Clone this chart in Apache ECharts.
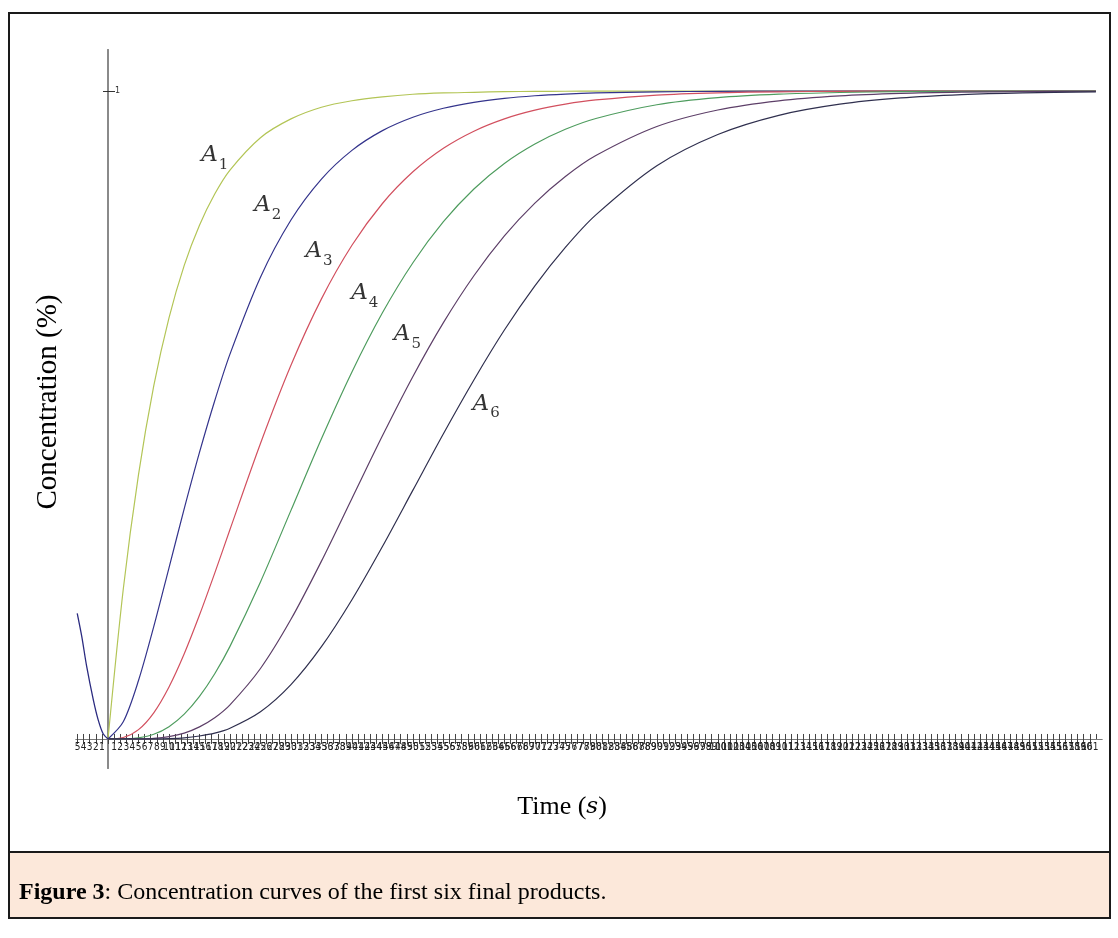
<!DOCTYPE html>
<html><head><meta charset="utf-8">
<script src="https://cdn.jsdelivr.net/npm/echarts@6/dist/echarts.min.js"></script>
<style>html,body{margin:0;padding:0;background:#fff}#c{width:1118px;height:938px}</style>
</head><body><div id="c"></div>
<script>
// ---- data ----
const T  = [0, 2.5, 5, 7.5, 10, 12.5, 15, 17.5, 20, 25, 30, 35, 40, 45, 50, 55, 60, 65, 70, 75, 80, 90, 100, 110, 120, 130, 140, 150, 162];
const A1 = [0, .231, .408, .545, .650, .731, .793, .841, .878, .928, .957, .975, .985, .991, .995, .997, .998, .999, .9994, .9996, .9998, .9999, 1, 1, 1, 1, 1, 1, 1];
const A2 = [0, .0265, .0902, .1733, .2642, .3554, .4422, .5220, .5940, .7127, .8009, .8641, .9084, .9389, .9596, .9734, .9826, .9887, .9927, .9953, .9970, .9988, .9995, .9998, .9999, 1, 1, 1, 1];
const A3 = [0, .0022, .0144, .0404, .0803, .1315, .1912, .2559, .3233, .4561, .5768, .6792, .7619, .8264, .8753, .9116, .9380, .9570, .9704, .9797, .9862, .9938, .9972, .9988, .9995, .9998, 1, 1, 1];
const A4 = [0, .0001, .0018, .0072, .0190, .0383, .0657, .1007, .1429, .2424, .3528, .4634, .5665, .6577, .7350, .7983, .8488, .8882, .9182, .9409, .9576, .9788, .9897, .9951, .9977, .9990, .9996, .9998, 1];
const A5 = [0, 0, .0002, .0010, .0037, .0091, .0187, .0328, .0527, .1088, .1847, .2745, .3712, .4679, .5595, .6425, .7149, .7764, .8270, .8680, .9004, .9452, .9707, .9849, .9924, .9963, .9982, .9991, .9996];
const A6 = [0, 0, 0, .0001, .0006, .0018, .0046, .0090, .0166, .0420, .0839, .1424, .2149, .2970, .3840, .4711, .5541, .6311, .6993, .7586, .8088, .8847, .9329, .9625, .9797, .9893, .9945, .9972, .9988];
const NEG_T = [-5.05, -4.3, -3.5, -2.4, -1.6, -0.8, 0];
const NEG_V = [0.194, 0.158, 0.112, 0.060, 0.029, 0.008, 0];
const CURVE_NAMES = ['A1', 'A2', 'A3', 'A4', 'A5', 'A6'];
const CURVE_SUBS = ['1', '2', '3', '4', '5', '6'];
const LABEL_T = [17.5, 26.2, 34.6, 42.1, 49.1, 62.0];
const LABEL_V = [0.906, 0.829, 0.759, 0.693, 0.631, 0.523];
const X_TICK_FIRST = -5, X_TICK_LAST = 162;
const Y_TICKS = [1];
const X_TITLE = 'Time (', X_TITLE_VAR = 's', X_TITLE_END = ')';
const Y_TITLE = 'Concentration (%)';
const CAPTION_BOLD = 'Figure 3';
const CAPTION_TEXT = ': Concentration curves of the first six final products.';

// ---- styling ----
const COLORS = ['#b3c556', '#34348c', '#d2505f', '#4e9c5e', '#5d3f68', '#30304f'];
const NEG_COLOR = '#2b2b80';
const X_MIN = -5.25, X_MAX = 163, Y_MIN = -0.0448, Y_MAX = 1.0633;

const X_TICKS = [];
for (let i = X_TICK_FIRST; i <= X_TICK_LAST; i++) X_TICKS.push(i);

const CURVES = [A1, A2, A3, A4, A5, A6];
const series = CURVES.map((arr, i) => ({
  name: CURVE_NAMES[i], type: 'line', xAxisIndex: 0, yAxisIndex: 0,
  data: T.map((t, j) => [t, arr[j]]),
  showSymbol: false, smooth: 0.3, silent: true,
  lineStyle: { color: COLORS[i], width: 1.2 }, z: 3
}));
series.push({
  name: 'A2 (t<0)', type: 'line', xAxisIndex: 0, yAxisIndex: 0,
  data: NEG_T.map((t, j) => [t, NEG_V[j]]),
  showSymbol: false, smooth: 0.3, silent: true,
  lineStyle: { color: NEG_COLOR, width: 1.3 }, z: 3
});
series.push({
  name: 'labels', type: 'scatter', xAxisIndex: 0, yAxisIndex: 0,
  data: LABEL_T.map((t, i) => ({ value: [t, LABEL_V[i]], sub: CURVE_SUBS[i] })),
  symbolSize: 0, silent: true,
  label: {
    show: true, position: 'inside',
    formatter: p => '{a|A}{s|' + p.data.sub + '}',
    rich: {
      a: { fontFamily: 'DejaVu Serif', fontStyle: 'italic', fontSize: 23, color: '#000', verticalAlign: 'bottom', lineHeight: 30 },
      s: { fontFamily: 'DejaVu Serif', fontSize: 15, color: '#000', verticalAlign: 'bottom', lineHeight: 20, padding: [0, 0, -6, 1] }
    }
  }
});

const xBase = {
  type: 'value', min: X_MIN, max: X_MAX, position: 'bottom',
  axisLine: { show: true, onZero: true, lineStyle: { color: '#7a7a7a', width: 1 } },
  splitLine: { show: false }
};
const yBase = {
  type: 'value', min: Y_MIN, max: Y_MAX, position: 'left',
  axisLine: { show: true, onZero: true, lineStyle: { color: '#8a8a8a', width: 2 } },
  splitLine: { show: false }
};

const chart = echarts.init(document.getElementById('c'), null, { renderer: 'canvas' });
chart.setOption({
  animation: false,
  backgroundColor: '#ffffff',
  grid: { left: 76, top: 50, width: 1026, height: 718, containLabel: false },
  xAxis: [
    Object.assign({}, xBase, {
      axisTick: { show: true, customValues: X_TICKS, inside: false, length: 5, lineStyle: { color: '#444' } },
      axisLabel: { show: true, customValues: X_TICKS, hideOverlap: false, margin: -26, fontSize: 10,
        fontFamily: 'DejaVu Sans Condensed, DejaVu Sans', color: '#222',
        formatter: v => (v === 0 ? '' : String(Math.abs(v))) }
    }),
    Object.assign({}, xBase, {
      axisTick: { show: true, customValues: X_TICKS, inside: true, length: 5, lineStyle: { color: '#444' } },
      axisLabel: { show: false }
    })
  ],
  yAxis: [
    Object.assign({}, yBase, {
      axisTick: { show: true, customValues: Y_TICKS, inside: false, length: 5, lineStyle: { color: '#333' } },
      axisLabel: { show: true, customValues: Y_TICKS, inside: true, margin: 39, fontSize: 8, color: '#333',
        fontFamily: 'DejaVu Sans', padding: [4, 0, 0, 0] }
    }),
    Object.assign({}, yBase, {
      axisTick: { show: true, customValues: Y_TICKS, inside: true, length: 7, lineStyle: { color: '#333' } },
      axisLabel: { show: false }
    })
  ],
  series: series,
  graphic: [
    { type: 'rect', shape: { x: 9, y: 852, width: 1101, height: 66 }, style: { fill: '#fce8da' }, z: -10, silent: true },
    { type: 'rect', shape: { x: 9, y: 13, width: 1101, height: 905 }, style: { fill: null, stroke: '#1a1a1a', lineWidth: 2 }, z: 10, silent: true },
    { type: 'line', shape: { x1: 9, y1: 852, x2: 1110, y2: 852 }, style: { stroke: '#1a1a1a', lineWidth: 2 }, z: 10, silent: true },
    { type: 'text', x: 19, y: 893, silent: true, z: 10,
      style: { text: '{b|' + CAPTION_BOLD + '}{n|' + CAPTION_TEXT + '}', verticalAlign: 'middle',
        rich: { b: { fontFamily: 'Liberation Serif', fontWeight: 'bold', fontSize: 24, fill: '#000' },
                n: { fontFamily: 'Liberation Serif', fontSize: 24, fill: '#000' } } } },
    { type: 'text', x: 562, y: 807, silent: true, z: 10,
      style: { text: '{n|' + X_TITLE + '}{i|' + X_TITLE_VAR + '}{n|' + X_TITLE_END + '}', align: 'center', verticalAlign: 'middle',
        rich: { n: { fontFamily: 'Liberation Serif', fontSize: 26, fill: '#000' },
                i: { fontFamily: 'DejaVu Serif', fontStyle: 'italic', fontSize: 23, fill: '#000' } } } },
    { type: 'text', x: 48, y: 402, rotation: Math.PI / 2, silent: true, z: 10,
      style: { text: Y_TITLE, align: 'center', verticalAlign: 'middle', fontFamily: 'Liberation Serif', fontSize: 29, fill: '#000' } }
  ]
});
</script>
</body></html>
